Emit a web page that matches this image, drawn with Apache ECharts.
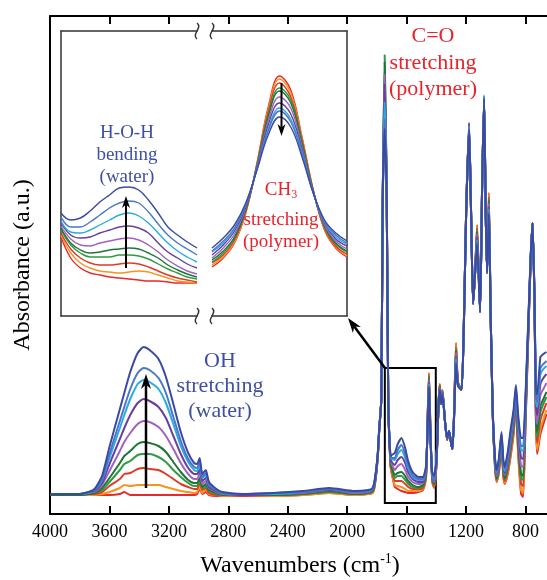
<!DOCTYPE html>
<html>
<head>
<meta charset="utf-8">
<script src="https://cdn.jsdelivr.net/npm/echarts@6/dist/echarts.min.js"></script>
<style>
  html, body { margin: 0; padding: 0; background: #fff; }
  #chart { width: 547px; height: 580px; }
</style>
</head>
<body>
<div id="chart"></div>
<script>
// wavenumber grid of the full spectra (cm-1)
const wavenumbers = [4000,3900,3800,3740,3700,3650,3600,3530,3500,3460,
  3410,3370,3330,3270,3220,3170,3120,3070,3030,3010,
  2993,2975,2952,2930,2880,2840,2700,2500,2300,2120,
  1950,1860,1830,1815,1795,1785,1771,1761,1748,1734,
  1724,1709,1700,1680,1660,1635,1610,1590,1560,1520,
  1490,1470,1460,1450,1440,1428,1416,1400,1385,1377,
  1368,1359,1343,1328,1315,1300,1292,1280,1268,1255,
  1231,1215,1200,1180,1165,1153,1140,1126,1106,1092,
  1079,1068,1059,1047,1035,1020,1005,995,980,962,
  950,940,920,900,880,865,850,830,816,800,
  780,765,753,740,730,722,700,680,659];

// absorbance (a.u. x1000), driest sample first, wettest last
const spec01 = [19,19,19,19,19,19,19,20,22,19, 19,19,19,19,19,19,19,19,19,20, 25,20,22,19,18,18,18,18,19,21,
  19,20,21,28,55,82,114,314,405,314, 114,48,40,27,25,23,22,21,21,22, 24,35,90,141,85,32,26,48,112,130,
  110,124,94,74,83,70,65,105,171,132, 124,190,300,386,290,210,240,289,202,330, 415,300,241,321,200,95,45,32,40,68,
  38,30,40,58,80,108,60,20,17,90, 185,255,291,210,90,60,80,90,100];
const spec02 = [19,19,19,19,19,20,22,26,29,28, 29,29,29,29,27,25,23,22,21,22, 27,21,24,20,19,18,18,18,19,21,
  19,20,21,28,55,82,114,314,410,314, 114,49,41,29,28,27,25,23,23,23, 25,36,89,140,84,33,27,48,112,130,
  110,124,94,74,83,70,65,105,170,132, 124,190,300,386,290,210,240,288,202,330, 415,300,241,320,200,95,46,33,41,69,
  39,31,42,60,82,110,63,24,21,92, 186,255,291,211,92,64,85,95,104];
const spec03 = [19,19,19,20,20,22,28,35,40,41, 45,46,45,44,40,35,30,27,25,25, 31,24,26,21,19,19,18,19,20,22,
  20,21,22,29,56,83,114,314,420,314, 114,50,43,33,33,33,30,27,25,25, 26,37,88,139,83,34,28,49,112,129,
  110,123,94,74,83,70,65,104,167,131, 124,190,300,387,290,210,240,286,202,330, 415,300,241,317,200,96,47,34,43,71,
  41,33,44,63,85,112,67,30,28,95, 188,256,291,212,95,71,94,103,111];
const spec04 = [19,19,19,20,21,24,32,44,50,53, 59,60,60,57,52,44,37,31,28,28, 34,26,28,23,20,19,19,19,20,22,
  20,21,22,30,56,83,114,314,459,314, 114,51,45,36,38,38,34,30,27,26, 28,39,87,137,82,35,29,50,111,128,
  110,123,94,75,83,70,65,104,165,131, 124,190,300,388,290,210,240,284,202,330, 415,300,241,315,200,96,48,35,44,72,
  43,35,46,66,87,114,71,36,34,98, 189,256,291,213,98,77,102,110,117];
const spec05 = [19,19,19,20,21,26,36,51,58,63, 70,72,71,68,62,52,42,34,31,31, 36,27,30,24,21,19,19,19,20,23,
  20,21,23,30,57,83,114,314,452,314, 114,52,47,39,41,42,38,33,29,27, 29,40,86,136,81,36,30,50,111,128,
  110,122,94,75,83,70,65,103,163,131, 124,190,300,389,290,210,240,282,202,330, 416,300,241,313,200,97,49,36,45,73,
  44,36,48,68,89,116,74,40,38,101, 190,257,291,214,101,82,108,115,122];
const spec06 = [20,20,20,21,22,29,43,63,72,81, 90,93,92,87,78,65,51,40,35,35, 41,30,33,26,22,20,19,20,21,24,
  21,22,24,31,58,84,114,314,440,314, 114,53,50,44,48,50,44,37,32,30, 31,42,85,134,80,37,32,51,111,127,
  110,122,94,75,83,70,65,103,161,130, 124,190,300,391,290,210,240,280,202,330, 416,300,241,311,200,98,50,38,48,75,
  47,39,51,72,93,119,80,48,47,105, 193,258,291,215,105,90,119,125,131];
const spec07 = [20,20,20,21,23,31,50,75,86,99, 111,115,113,107,96,78,60,46,40,40, 45,33,36,27,23,21,19,20,22,24,
  22,23,24,32,58,84,114,314,430,314, 114,55,52,49,54,57,51,42,35,32, 32,43,84,132,79,39,34,52,111,126,
  110,121,94,75,83,70,65,102,157,129, 124,190,300,391,290,210,240,277,202,330, 417,300,241,307,200,98,52,40,50,77,
  49,41,54,76,96,122,86,56,55,110, 195,258,291,217,110,99,130,136,140];
const spec08 = [20,20,20,21,24,34,56,86,99,115, 130,134,132,125,111,90,68,52,44,43, 49,36,39,29,24,21,20,20,22,25,
  22,23,25,33,59,84,114,314,412,314, 114,56,55,54,60,64,56,46,37,34, 34,45,82,130,77,40,35,53,110,125,
  110,120,94,76,83,70,65,101,155,129, 124,190,300,388,290,210,240,274,202,330, 419,300,241,305,200,99,53,41,52,79,
  51,43,57,79,100,124,91,64,63,113, 197,259,291,218,113,107,140,145,148];
const spec09 = [20,20,20,22,24,35,60,93,107,125, 141,146,144,136,121,97,73,55,47,46, 52,37,41,30,24,21,20,21,22,25,
  22,23,25,33,59,85,114,314,395,314, 114,57,56,56,64,69,60,49,39,35, 35,46,81,129,76,41,36,53,110,125,
  110,120,94,76,83,70,65,101,153,129, 124,190,300,386,290,210,240,273,202,330, 417,300,241,303,200,99,54,42,53,80,
  53,45,59,81,102,126,94,68,68,116, 198,259,291,219,116,112,146,150,153];
const spec10 = [20,20,20,22,25,38,67,105,121,142, 161,167,164,155,137,110,82,61,51,50, 56,40,44,32,25,22,20,21,23,26,
  23,24,26,34,60,85,114,314,385,314, 114,58,59,61,70,76,66,53,42,37, 37,48,80,127,75,42,38,54,110,124,
  110,119,94,76,83,70,65,100,150,128, 124,190,300,384,290,210,240,270,202,330, 415,300,241,300,200,100,55,44,55,82,
  55,47,62,85,105,129,100,76,76,120, 200,260,291,220,120,120,157,160,162];

// inset, left part: H-O-H bending
const bendWn = [1700,1690,1680,1670,1660,1650,1640,1630,1620,1610,1600,1590,1580,1570,1560];
const bend01 = [79,58,48,43,41,39,38,37,36,35,35,34,33,33,33];
const bend02 = [81,63,53,48,45,44,43,44,45,44,41,38,35,34,33];
const bend03 = [83,67,58,53,51,51,52,53,52,49,45,41,38,36,34];
const bend04 = [86,71,63,59,59,59,61,61,60,57,52,47,43,39,37];
const bend05 = [88,73,66,63,64,66,67,68,67,63,58,51,46,42,39];
const bend06 = [90,77,71,70,73,75,77,78,76,71,64,56,50,45,42];
const bend07 = [93,81,78,79,83,86,89,90,88,83,73,64,58,52,48];
const bend08 = [95,84,83,86,91,96,101,103,100,93,83,73,65,59,54];
const bend09 = [99,89,89,94,101,108,113,115,113,104,92,81,73,67,61];
const bend10 = [103,96,98,105,114,121,128,129,126,116,103,89,81,74,68];

// inset, right part: CH3 band
const chWn = [1480,1475,1470,1465,1460,1455,1450,1445,1440,1435,1430,1425,1420];
const ch01 = [49,58,73,103,153,209,240,226,179,126,86,68,59];
const ch02 = [51,59,74,103,152,207,237,223,178,126,87,69,60];
const ch03 = [53,61,76,105,151,204,233,219,176,125,88,70,62];
const ch04 = [54,63,78,106,151,201,228,216,174,125,89,72,64];
const ch05 = [56,65,79,106,150,199,225,213,172,125,90,73,65];
const ch06 = [58,68,82,108,149,195,219,208,169,124,91,75,67];
const ch07 = [61,71,85,109,148,191,213,202,166,124,93,77,70];
const ch08 = [64,73,87,111,147,187,208,197,164,123,94,79,72];
const ch09 = [65,75,88,111,147,185,205,194,162,123,95,81,73];
const ch10 = [68,78,91,113,146,181,199,189,159,123,96,83,75];

const xTicks = [4000, 3600, 3200, 2800, 2400, 2000, 1600, 1200, 800];

const lineColors = ['#e8282b', '#f7941d', '#dd3b2a', '#2f9a45', '#1d7634',
  '#a262c2', '#6a3d9e', '#2aabe2', '#4a78c6', '#3a4aa2'];

const mainSpectra = [spec01, spec02, spec03, spec04, spec05, spec06, spec07, spec08, spec09, spec10];
const bendSpectra = [bend01, bend02, bend03, bend04, bend05, bend06, bend07, bend08, bend09, bend10];
const chSpectra = [ch01, ch02, ch03, ch04, ch05, ch06, ch07, ch08, ch09, ch10];

const FONT = '"Liberation Serif", "Times New Roman", serif';
const RED = '#e8232a';
const BLUE = '#3f4fa4';

const chart = echarts.init(document.getElementById('chart'), null, { renderer: 'canvas' });

function pairs(xs, ys) {
  return xs.map((x, i) => [x, ys[i]]);
}

function arrow(x1, y1, x2, y2, w, hl, hw) {
  const ang = Math.atan2(y2 - y1, x2 - x1);
  const c = Math.cos(ang), s = Math.sin(ang);
  const bx = x2 - hl * c, by = y2 - hl * s;
  const ix = x2 - hl * 0.7 * c, iy = y2 - hl * 0.7 * s;
  const px = -s * hw / 2, py = c * hw / 2;
  return [
    { type: 'line', z: 100, shape: { x1: x1, y1: y1, x2: ix, y2: iy }, style: { stroke: '#000', lineWidth: w } },
    { type: 'polygon', z: 100, shape: { points: [[x2, y2], [bx + px, by + py], [ix, iy], [bx - px, by - py]] }, style: { fill: '#000' } }
  ];
}

function squiggle(x, y) {
  return {
    type: 'bezierCurve', z: 100,
    shape: { x1: x, y1: y - 8, cpx1: x + 6, cpy1: y - 3, cpx2: x - 6, cpy2: y + 3, x2: x, y2: y + 8 },
    style: { stroke: '#333', lineWidth: 1.5, fill: null }
  };
}

function plainAxis(grid, min, max, pos) {
  return {
    type: 'value', gridIndex: grid, min: min, max: max, inverse: true, position: pos,
    axisLine: { onZero: false, lineStyle: { color: '#333', width: 1.5 } },
    axisTick: { show: false }, axisLabel: { show: false }, splitLine: { show: false }
  };
}

const mainXAxis = (pos, labels) => ({
  type: 'value', gridIndex: 0, min: 400, max: 4000, interval: 400, inverse: true, position: pos,
  axisLine: { onZero: false, lineStyle: { color: '#000', width: 2 } },
  axisTick: { inside: true, length: 8, lineStyle: { color: '#000', width: 2 } },
  axisLabel: {
    show: labels, color: '#000', fontFamily: FONT, fontSize: 18, margin: 9,
    showMinLabel: true, showMaxLabel: true,
    formatter: v => (xTicks.includes(v) ? String(v) : '')
  },
  splitLine: { show: false }
});

const series = [];
mainSpectra.forEach((ys, i) => {
  series.push({
    type: 'line', xAxisIndex: 0, yAxisIndex: 0, data: pairs(wavenumbers, ys),
    symbol: 'none', smooth: 0.2, silent: true,
    lineStyle: { color: lineColors[i], width: 2 },
    markArea: i === mainSpectra.length - 1 ? {
      silent: true,
      itemStyle: { color: 'rgba(0,0,0,0)', borderColor: '#000', borderWidth: 2 },
      data: [[{ xAxis: 1747, yAxis: 11 }, { xAxis: 1404, yAxis: 146 }]]
    } : undefined
  });
});
bendSpectra.forEach((ys, i) => {
  series.push({
    type: 'line', xAxisIndex: 2, yAxisIndex: 1, data: pairs(bendWn, ys),
    symbol: 'none', smooth: 0.4, silent: true,
    lineStyle: { color: lineColors[i], width: 1.4 }
  });
});
chSpectra.forEach((ys, i) => {
  series.push({
    type: 'line', xAxisIndex: 4, yAxisIndex: 2, data: pairs(chWn, ys),
    symbol: 'none', smooth: 0.4, silent: true,
    lineStyle: { color: lineColors[i], width: 1.4 }
  });
});

const graphics = [
  // axis titles
  {
    type: 'text', x: 300, y: 566, z: 100,
    style: {
      text: '{a|Wavenumbers (cm}{b|-1}{a|)}', textAlign: 'center', textVerticalAlign: 'middle',
      rich: {
        a: { fontFamily: FONT, fontSize: 24, fill: '#000', lineHeight: 28 },
        b: { fontFamily: FONT, fontSize: 14, fill: '#000', verticalAlign: 'top', lineHeight: 14 }
      }
    }
  },
  {
    type: 'text', x: 23, y: 265, rotation: Math.PI / 2, z: 100,
    style: { text: 'Absorbance (a.u.)', fontFamily: FONT, fontSize: 24, fill: '#000', textAlign: 'center', textVerticalAlign: 'middle' }
  },
  // band labels
  {
    type: 'text', x: 433, y: 23, z: 100,
    style: { text: 'C=O\nstretching\n(polymer)', fontFamily: FONT, fontSize: 22, lineHeight: 26.5, fill: RED, textAlign: 'center', textVerticalAlign: 'top' }
  },
  {
    type: 'text', x: 220, y: 349, z: 100,
    style: { text: 'OH\nstretching\n(water)', fontFamily: FONT, fontSize: 22, lineHeight: 25, fill: BLUE, textAlign: 'center', textVerticalAlign: 'top' }
  },
  {
    type: 'text', x: 127, y: 122, z: 100,
    style: { text: 'H-O-H\nbending\n(water)', fontFamily: FONT, fontSize: 19, lineHeight: 22, fill: BLUE, textAlign: 'center', textVerticalAlign: 'top' }
  },
  {
    type: 'text', x: 281, y: 190, z: 100,
    style: {
      text: '{a|CH}{s|3}', textAlign: 'center', textVerticalAlign: 'middle',
      rich: {
        a: { fontFamily: FONT, fontSize: 19, fill: RED, lineHeight: 22 },
        s: { fontFamily: FONT, fontSize: 12, fill: RED, verticalAlign: 'bottom', lineHeight: 12 }
      }
    }
  },
  {
    type: 'text', x: 281, y: 209, z: 100,
    style: { text: 'stretching\n(polymer)', fontFamily: FONT, fontSize: 19, lineHeight: 22, fill: RED, textAlign: 'center', textVerticalAlign: 'top' }
  },
  // inset axis breaks
  squiggle(197, 31), squiggle(212, 31), squiggle(197, 316), squiggle(212, 316)
]
  .concat(arrow(146, 488, 146, 374, 2.5, 15, 10))
  .concat(arrow(126, 268, 126, 196, 2, 12, 8))
  .concat(arrow(281.5, 83, 281.5, 136, 2, 12, 8))
  .concat(arrow(385, 368, 348, 318, 2.5, 15, 10));

chart.setOption({
  animation: false,
  backgroundColor: '#fff',
  grid: [
    { left: 50, width: 535, top: 16, height: 498, outerBoundsMode: 'none', containLabel: false },
    { left: 61, top: 31, width: 136, height: 285, outerBoundsMode: 'none' },
    { left: 212, top: 31, width: 135, height: 285, outerBoundsMode: 'none' }
  ],
  xAxis: [
    mainXAxis('bottom', true),
    mainXAxis('top', false),
    plainAxis(1, 1560, 1700, 'bottom'),
    plainAxis(1, 1560, 1700, 'top'),
    plainAxis(2, 1420, 1480, 'bottom'),
    plainAxis(2, 1420, 1480, 'top')
  ],
  yAxis: [
    {
      type: 'value', gridIndex: 0, min: 0, max: 498, position: 'left',
      axisLine: { onZero: false, lineStyle: { color: '#000', width: 2 } },
      axisTick: { show: false }, axisLabel: { show: false }, splitLine: { show: false }
    },
    {
      type: 'value', gridIndex: 1, min: 0, max: 285, position: 'left',
      axisLine: { show: true, onZero: false, lineStyle: { color: '#333', width: 1.5 } },
      axisTick: { show: false }, axisLabel: { show: false }, splitLine: { show: false }
    },
    {
      type: 'value', gridIndex: 2, min: 0, max: 285, position: 'right',
      axisLine: { show: true, onZero: false, lineStyle: { color: '#333', width: 1.5 } },
      axisTick: { show: false }, axisLabel: { show: false }, splitLine: { show: false }
    }
  ],
  series: series,
  graphic: graphics
});

window.addEventListener('resize', () => chart.resize());
</script>
</body>
</html>
